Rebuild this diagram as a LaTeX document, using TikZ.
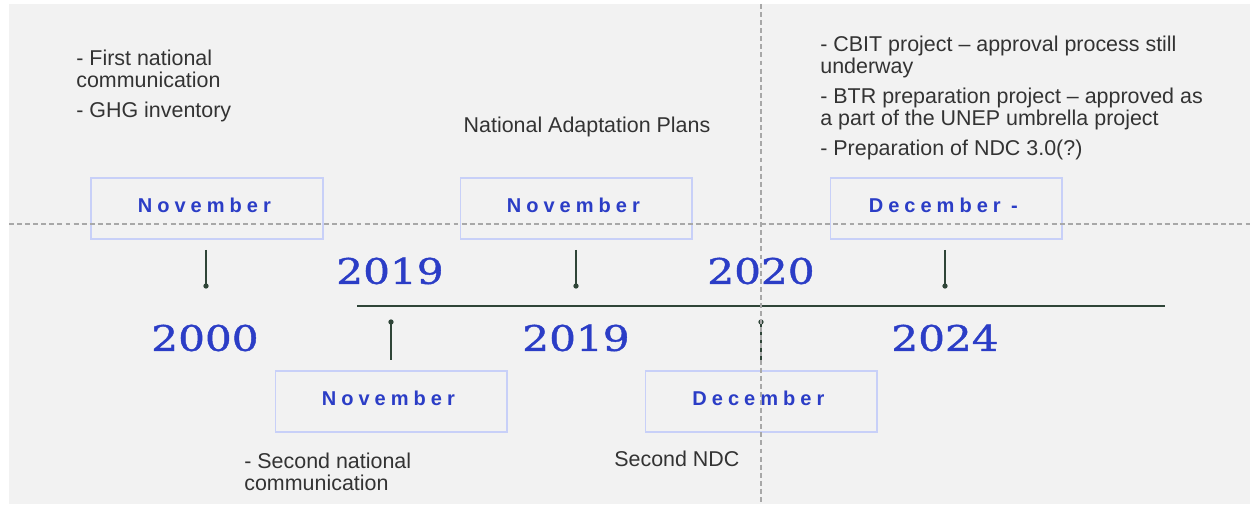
\documentclass[tikz,border=0pt]{standalone}
\usepackage{fontspec}
\setmainfont{Liberation Sans}
\newfontfamily\monthfont[LetterSpace=25]{Liberation Sans}
\newfontfamily\yearfont[FakeStretch=1.2,FakeBold=1.2]{DejaVu Serif}
\usepackage{xcolor}
\definecolor{bggray}{HTML}{F2F2F2}
\definecolor{notegray}{HTML}{333333}
\definecolor{boxblue}{HTML}{C8D0F8}
\definecolor{yearblue}{HTML}{2B3DC6}
\definecolor{linegreen}{HTML}{2F4538}
\definecolor{guidegray}{HTML}{A8A8A8}

\begin{document}
\begin{tikzpicture}[
    x=0.02cm, y=-0.02cm,
    every node/.style={inner sep=0pt},
    note/.style={anchor=north west, align=left, text=notegray, font=\fontsize{12.2}{12.5}\selectfont},
    monthbox/.style={rectangle, draw=boxblue, line width=0.6pt, minimum width=4.64cm, minimum height=1.22cm},
    month/.style={text=yearblue, font=\monthfont\bfseries\fontsize{11.4}{13}\selectfont},
    year/.style={text=yearblue, font=\yearfont\fontsize{20}{24}\selectfont},
    stem/.style={draw=linegreen, line width=0.75pt},
    timeline/.style={draw=linegreen, line width=1.1pt},
    guide/.style={draw=guidegray, line width=0.6pt, dash pattern=on 2.8pt off 1.8pt}
]
\useasboundingbox (0,0) rectangle (1250,506);
\fill[bggray] (9,4) rectangle (1250,504);

% Timeline axis
\coordinate (tl-start) at (357,306);
\coordinate (tl-end) at (1165,306);
\draw[timeline] (tl-start) -- (tl-end);

% November 2000
\node[monthbox] (nov2000) at (207,208.5) {};
\node[month] (nov2000-lbl) at ([xshift=-1.5pt,yshift=2pt]nov2000.center) {November};
\coordinate (s2000) at (206,250);
\coordinate (d2000) at (206,286);
\draw[stem] (s2000) -- (d2000);
\fill[linegreen] (d2000) circle (1.5pt);
\node[year] (y2000) at (205,338) {2000};
\node[note] (n2000) at (76,50) {- First national\\communication\\[4.5pt]- GHG inventory};

% November 2019 (below)
\node[monthbox] (nov2019b) at (391,401.5) {};
\node[month] (nov2019b-lbl) at ([xshift=-1.5pt,yshift=2pt]nov2019b.center) {November};
\coordinate (d2019b) at (391,322);
\coordinate (s2019b) at (391,360);
\draw[stem] (d2019b) -- (s2019b);
\fill[linegreen] (d2019b) circle (1.5pt);
\node[year] (y2019b) at (390,271) {2019};
\node[note] (n2019b) at (244,453) {- Second national\\communication};

% November 2019 (above)
\node[monthbox] (nov2019a) at (576,208.5) {};
\node[month] (nov2019a-lbl) at ([xshift=-1.5pt,yshift=2pt]nov2019a.center) {November};
\coordinate (s2019a) at (576,250);
\coordinate (d2019a) at (576,286);
\draw[stem] (s2019a) -- (d2019a);
\fill[linegreen] (d2019a) circle (1.5pt);
\node[year] (y2019a) at (576,338) {2019};
\node[note, anchor=north] (n2019a) at (587,117) {National Adaptation Plans};

% December 2020
\node[monthbox] (dec2020) at (761,401.5) {};
\node[month] (dec2020-lbl) at ([xshift=-1.5pt,yshift=2pt]dec2020.center) {December};
\coordinate (d2020) at (761,322);
\coordinate (s2020) at (761,360);
\draw[stem] (d2020) -- (s2020);
\fill[linegreen] (d2020) circle (1.5pt);
\node[year] (y2020) at (761,271) {2020};
\node[note] (n2020) at (614,451) {Second NDC};

% December 2024 -
\node[monthbox] (dec2024) at (946,208.5) {};
\node[month] (dec2024-lbl) at ([xshift=-1.5pt,yshift=2pt]dec2024.center) {December -};
\coordinate (s2024) at (945,250);
\coordinate (d2024) at (945,286);
\draw[stem] (s2024) -- (d2024);
\fill[linegreen] (d2024) circle (1.5pt);
\node[year] (y2024) at (945,338) {2024};
\node[note] (n2024) at (820,36) {- CBIT project – approval process still\\underway\\[4.5pt]- BTR preparation project – approved as\\a part of the UNEP umbrella project\\[4.5pt]- Preparation of NDC 3.0(?)};

% Guide lines
\coordinate (gh-l) at (9,224);
\coordinate (gh-r) at (1250,224);
\coordinate (gv-t) at (761,4);
\coordinate (gv-b) at (761,504);
\draw[guide] (gh-l) -- (gh-r);
\draw[guide] (gv-t) -- (gv-b);

\end{tikzpicture}
\end{document}
